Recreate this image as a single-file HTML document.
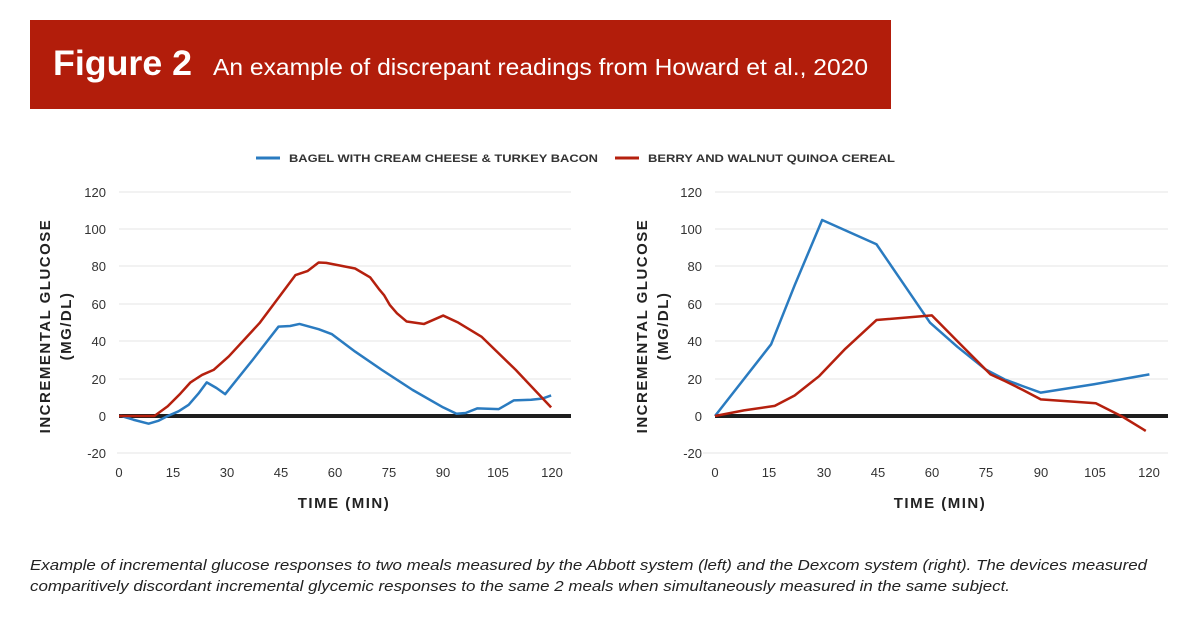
<!DOCTYPE html>
<html><head><meta charset="utf-8"><style>
html,body{margin:0;padding:0;background:#fff;}
svg{display:block;font-family:"Liberation Sans",Arial,sans-serif;}
</style></head><body>
<svg width="1200" height="621" viewBox="0 0 1200 621" xmlns="http://www.w3.org/2000/svg">
<rect x="30" y="20" width="861" height="89" fill="#b21d0b"/>
<text x="53" y="75" fill="#fff" font-size="35" font-weight="bold" textLength="139" lengthAdjust="spacingAndGlyphs">Figure 2</text>
<text x="213" y="75" fill="#fff" font-size="23" textLength="655" lengthAdjust="spacingAndGlyphs">An example of discrepant readings from Howard et al., 2020</text>

<line x1="256" y1="158" x2="280" y2="158" stroke="#2a7bc0" stroke-width="3"/>
<text x="289" y="162" font-size="11" font-weight="bold" fill="#333" textLength="309" lengthAdjust="spacingAndGlyphs">BAGEL WITH CREAM CHEESE &amp; TURKEY BACON</text>
<line x1="615" y1="158" x2="639" y2="158" stroke="#b5200e" stroke-width="3"/>
<text x="648" y="162" font-size="11" font-weight="bold" fill="#333" textLength="247" lengthAdjust="spacingAndGlyphs">BERRY AND WALNUT QUINOA CEREAL</text>

<g stroke="#e6e6e6" stroke-width="1">
<line x1="119" x2="571" y1="192" y2="192"/><line x1="119" x2="571" y1="229" y2="229"/><line x1="119" x2="571" y1="266" y2="266"/><line x1="119" x2="571" y1="304" y2="304"/><line x1="119" x2="571" y1="341" y2="341"/><line x1="119" x2="571" y1="379" y2="379"/><line x1="117" x2="571" y1="453" y2="453"/>
<line x1="715" x2="1168" y1="192" y2="192"/><line x1="715" x2="1168" y1="229" y2="229"/><line x1="715" x2="1168" y1="266" y2="266"/><line x1="715" x2="1168" y1="304" y2="304"/><line x1="715" x2="1168" y1="341" y2="341"/><line x1="715" x2="1168" y1="379" y2="379"/><line x1="703" x2="1168" y1="453" y2="453"/>
</g>
<line x1="119" x2="571" y1="416" y2="416" stroke="#1e1e1e" stroke-width="4"/>
<line x1="715" x2="1168" y1="416" y2="416" stroke="#1e1e1e" stroke-width="4"/>

<g font-size="13" fill="#333" text-anchor="end">
<text x="106" y="197">120</text><text x="106" y="234">100</text><text x="106" y="271">80</text><text x="106" y="309">60</text><text x="106" y="346">40</text><text x="106" y="384">20</text><text x="106" y="421">0</text><text x="106" y="458">-20</text>
<text x="702" y="197">120</text><text x="702" y="234">100</text><text x="702" y="271">80</text><text x="702" y="309">60</text><text x="702" y="346">40</text><text x="702" y="384">20</text><text x="702" y="421">0</text><text x="702" y="458">-20</text>
</g>
<g font-size="13" fill="#333" text-anchor="middle">
<text x="119" y="477">0</text><text x="173" y="477">15</text><text x="227" y="477">30</text><text x="281" y="477">45</text><text x="335" y="477">60</text><text x="389" y="477">75</text><text x="443" y="477">90</text><text x="498" y="477">105</text><text x="552" y="477">120</text>
<text x="715" y="477">0</text><text x="769" y="477">15</text><text x="824" y="477">30</text><text x="878" y="477">45</text><text x="932" y="477">60</text><text x="986" y="477">75</text><text x="1041" y="477">90</text><text x="1095" y="477">105</text><text x="1149" y="477">120</text>
</g>
<g font-size="15" font-weight="bold" fill="#222" text-anchor="middle" letter-spacing="1.5">
<text x="344" y="508">TIME (MIN)</text>
<text x="940" y="508">TIME (MIN)</text>
<text transform="translate(50,326) rotate(-90)">INCREMENTAL GLUCOSE</text>
<text transform="translate(71,326) rotate(-90)">(MG/DL)</text>
<text transform="translate(647,326) rotate(-90)">INCREMENTAL GLUCOSE</text>
<text transform="translate(668,326) rotate(-90)">(MG/DL)</text>
</g>

<g transform="translate(119,416) scale(3.61,-1.867)" fill="none" stroke-width="2.5" stroke-linejoin="round">
<polyline vector-effect="non-scaling-stroke" stroke="#2a7bc0" points="0,0 0.7,0 4,-2 8.2,-4.1 11,-2.5 13.5,0 16.5,2.5 19.3,6 22,12 24.3,18 27,15 29.4,11.7 37,30 44.2,47.9 47.4,48.2 50,49.3 55.3,46.5 59,43.8 65.4,34.5 72.8,24.7 81.3,14 89.8,4.6 93.5,1.2 96,1.6 99.3,4.1 105.2,3.7 109.4,8.4 114.2,8.7 117.4,9.4 119.7,11"/>
<polyline vector-effect="non-scaling-stroke" stroke="#b5200e" points="0,0 9.8,0 13.5,5.2 17,12 19.8,18 23,22 26.2,24.7 30.4,31.9 38.9,49.7 48.9,75.5 52.2,77.6 55.3,82.2 57.4,82 65.4,79 69.6,74.2 72,68 73.4,64.8 75,59.5 77,55 79.7,50.6 84.5,49.3 89.8,53.8 94,50 100.4,42.5 109.9,24.7 119.7,4.6"/>
</g>
<g transform="translate(715,416) scale(3.62,-1.867)" fill="none" stroke-width="2.5" stroke-linejoin="round">
<polyline vector-effect="non-scaling-stroke" stroke="#2a7bc0" points="0,0 15.5,38.4 22,70 29.6,105 44.6,92 52,71 59.4,50 67,37 74.7,25 80,19.6 85,16 90,12.5 104.7,17 120,22.3"/>
<polyline vector-effect="non-scaling-stroke" stroke="#b5200e" points="0,0 8,3 16.5,5.4 22,11 28.8,21.4 36,36 44.6,51.4 59.9,53.9 68,38 76.1,22.3 80,18.8 85,14 90,8.9 105.2,6.8 112.6,-0.4 119,-8"/>
</g>

<g font-size="15" font-style="italic" fill="#222">
<text x="30" y="570" textLength="1117" lengthAdjust="spacingAndGlyphs">Example of incremental glucose responses to two meals measured by the Abbott system (left) and the Dexcom system (right). The devices measured</text>
<text x="30" y="591" textLength="980" lengthAdjust="spacingAndGlyphs">comparitively discordant incremental glycemic responses to the same 2 meals when simultaneously measured in the same subject.</text>
</g>
</svg>
</body></html>
